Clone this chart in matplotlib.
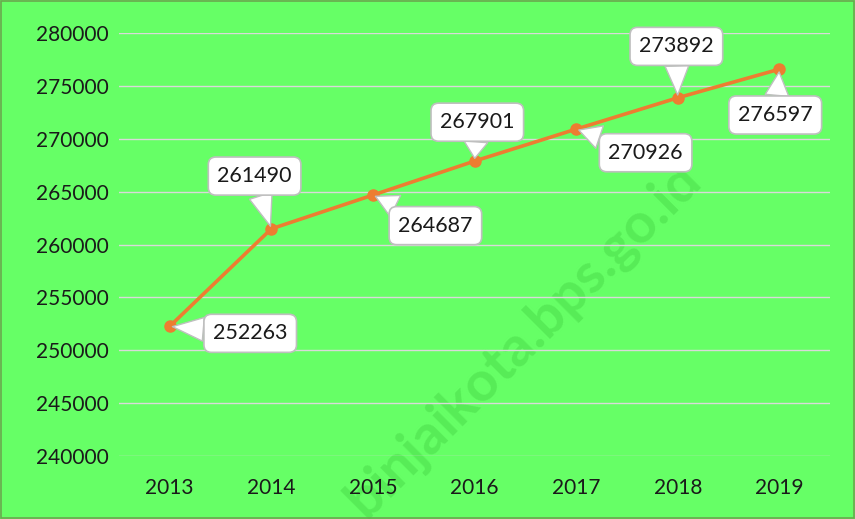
import matplotlib.pyplot as plt
import matplotlib.patches as mpatches

years = ["2013", "2014", "2015", "2016", "2017", "2018", "2019"]
values = [252263, 261490, 264687, 267901, 270926, 273892, 276597]
yticks = [240000, 245000, 250000, 255000, 260000, 265000, 270000, 275000, 280000]
# label offsets (points) relative to each point
offsets = [(58, -5), (-12, 38), (45, -22), (2, 28), (50, -17), (-1, 37), (-3, -33)]

plt.rcParams['font.family'] = ['Lato', 'DejaVu Sans']
bg = '#66FF66'
fig = plt.figure(figsize=(8.55, 5.19), dpi=100, facecolor=bg)
ax = fig.add_axes([0.139, 0.1214, 0.832, 0.8146], facecolor=bg)

x = list(range(len(years)))
ax.plot(x, values, color='#ED7D31', lw=2.6, marker='o', markersize=8, zorder=3)

ax.set_xlim(-0.5, len(years) - 0.5)
ax.set_ylim(240000, 280000)
ax.set_yticks(yticks)
ax.set_yticklabels([str(v) for v in yticks])
ax.set_xticks(x)
ax.set_xticklabels(years)
ax.tick_params(length=0, labelsize=15, colors='#1a1a1a')
ax.tick_params(axis='x', pad=16)
ax.tick_params(axis='y', pad=7)
ax.grid(axis='y', color='#d9d9d9', lw=1)
ax.set_axisbelow(True)
for s in ax.spines.values():
    s.set_visible(False)

ax.text(0.612, 0.345, 'binjaikota.bps.go.id', rotation=45, fontsize=40, fontweight='bold',
        color='#57EC57', ha='center', va='center', zorder=0.4, transform=fig.transFigure,
        clip_on=False)

for xi, v, off in zip(x, values, offsets):
    ax.annotate(str(v), xy=(xi, v), xytext=off, textcoords='offset points',
                ha='center', va='center', fontsize=15.5, color='#1a1a1a', zorder=5,
                bbox=dict(boxstyle='round,pad=0.42,rounding_size=0.35', fc='white', ec='#bfbfbf', lw=1.2),
                arrowprops=dict(arrowstyle='wedge,tail_width=1.1,shrink_factor=0.5', fc='white',
                                ec='#bfbfbf', lw=1.0, shrinkA=0, shrinkB=2))

fig.patches.append(mpatches.Rectangle((0.001, 0.001), 0.998, 0.998, transform=fig.transFigure,
                                      fill=False, ec='#6aa84f', lw=1.2))

fig.savefig('out.png', dpi=100, facecolor=bg)
